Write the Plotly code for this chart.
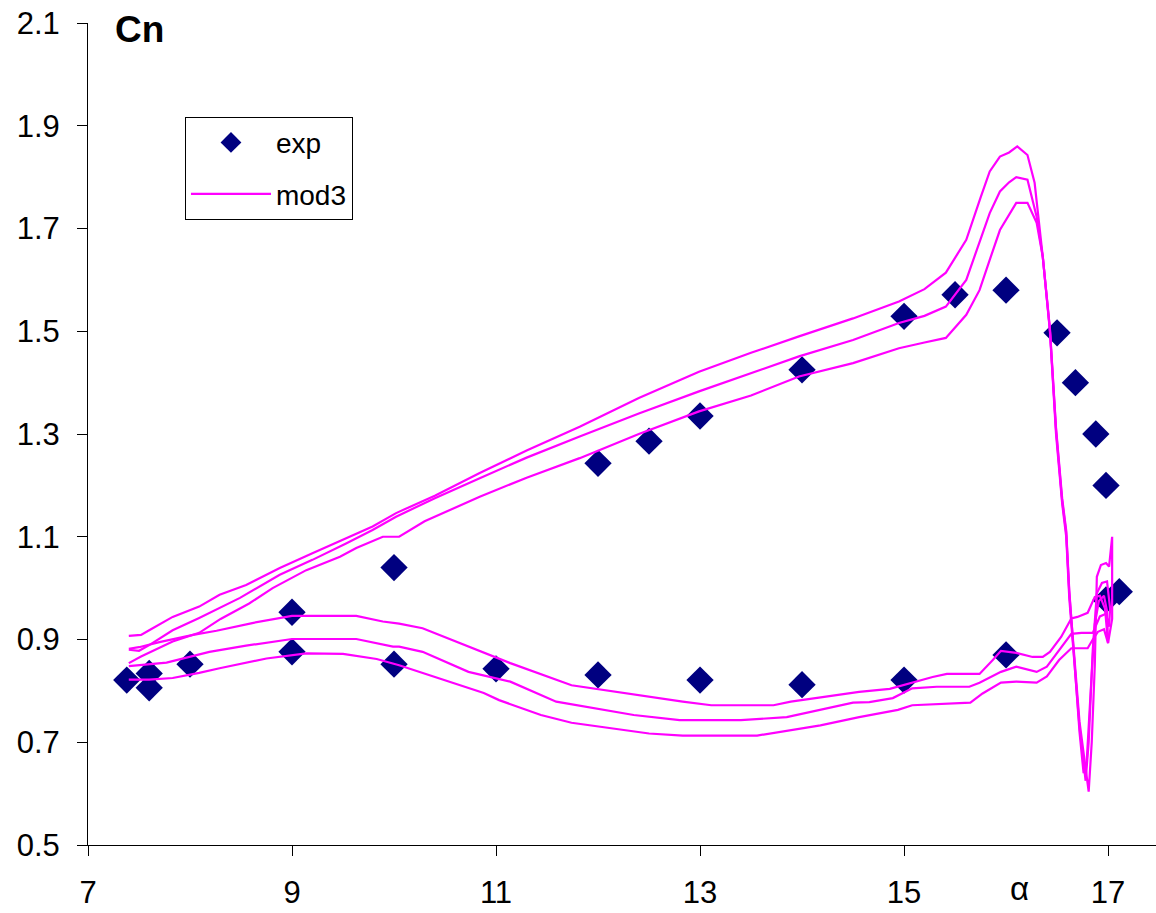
import plotly.graph_objects as go

# ---------------- experimental data ----------------
exp_alpha = [7.38, 7.60, 7.60, 8.00, 9.00, 9.00, 10.00, 10.00, 11.00, 12.00, 12.00,
             12.50, 13.00, 13.00, 14.00, 14.00, 15.00, 15.00, 15.50, 16.00, 16.00,
             16.50, 16.68, 16.88, 16.98, 16.98, 17.11]
exp_cn = [0.821, 0.834, 0.806, 0.852, 0.953, 0.876, 1.040, 0.852, 0.843, 1.243, 0.831,
          1.286, 1.335, 0.821, 1.425, 0.812, 1.529, 0.821, 1.571, 1.580, 0.870,
          1.497, 1.400, 1.300, 1.200, 0.977, 0.993]

# ---------------- model "mod3": three hysteresis loops ----------------
# loop 1 (highest)
alpha_up1 = [7.40, 7.52, 7.60, 7.83, 8.09, 8.29, 8.55, 8.88, 9.20, 9.53, 9.79, 10.02,
             10.40, 10.84, 11.30, 11.82, 12.40, 12.99, 13.50, 13.97, 14.50, 14.95,
             15.20, 15.41, 15.61, 15.75, 15.84, 15.94, 16.03, 16.11, 16.21, 16.28, 16.36]
cn_up1 = [0.907, 0.909, 0.918, 0.944, 0.964, 0.987, 1.006, 1.039, 1.068, 1.097, 1.120, 1.146,
          1.180, 1.224, 1.268, 1.314, 1.370, 1.421, 1.458, 1.490, 1.525, 1.558,
          1.582, 1.614, 1.678, 1.760, 1.811, 1.840, 1.848, 1.860, 1.843, 1.789, 1.645]
alpha_tip1 = [16.43, 16.49, 16.55, 16.59, 16.62, 16.72, 16.81, 16.84, 16.87, 16.89,
              16.93, 16.98, 17.01, 17.04, 17.04, 17.02, 17.00, 16.97, 16.92]
cn_tip1 = [1.503, 1.308, 1.170, 1.107, 0.990, 0.740, 0.604, 0.700, 0.850, 1.022,
           1.045, 1.049, 1.042, 1.100, 0.940, 0.915, 0.893, 0.960, 0.985]
alpha_low1 = [16.87, 16.80, 16.70, 16.64, 16.54, 16.43, 16.36, 16.26, 16.10, 15.95,
              15.87, 15.74, 15.42, 15.28, 14.86, 14.56, 14.20, 13.89, 13.72, 13.11,
              12.83, 12.30, 11.74, 11.14, 10.73, 10.58, 10.28, 10.05, 9.89, 9.63,
              9.00, 8.61, 8.26, 8.03, 7.70, 7.50, 7.40]
cn_low1 = [0.983, 0.952, 0.944, 0.941, 0.905, 0.876, 0.866, 0.866, 0.874, 0.878,
           0.860, 0.833, 0.833, 0.827, 0.804, 0.798, 0.788, 0.779, 0.772, 0.772,
           0.779, 0.795, 0.811, 0.854, 0.886, 0.899, 0.922, 0.931, 0.935, 0.946,
           0.946, 0.932, 0.917, 0.909, 0.895, 0.885, 0.882]

# loop 2 (middle)
alpha_up2 = [7.40, 7.50, 7.60, 7.83, 8.09, 8.49, 8.88, 9.20, 9.53, 9.79, 10.02,
             10.40, 10.84, 11.30, 11.82, 12.40, 12.99, 13.50, 13.97, 14.50, 14.95,
             15.20, 15.41, 15.61, 15.84, 15.94, 16.03, 16.10, 16.21, 16.30, 16.36]
cn_up2 = [0.880, 0.878, 0.889, 0.918, 0.942, 0.981, 1.026, 1.055, 1.087, 1.113, 1.139,
          1.175, 1.214, 1.254, 1.295, 1.340, 1.383, 1.418, 1.451, 1.483, 1.516,
          1.530, 1.548, 1.600, 1.730, 1.772, 1.790, 1.800, 1.795, 1.723, 1.645]
alpha_tip2 = [16.43, 16.49, 16.55, 16.59, 16.62, 16.72, 16.78, 16.81, 16.85, 16.89,
              16.94, 16.99, 17.02, 17.01, 16.98, 16.92]
cn_tip2 = [1.500, 1.300, 1.165, 1.100, 0.980, 0.730, 0.625, 0.700, 0.880, 0.990,
           1.010, 1.013, 0.960, 0.925, 0.950, 0.945]
alpha_low2 = [16.85, 16.74, 16.64, 16.52, 16.40, 16.30, 16.10, 15.95, 15.74, 15.64,
              15.32, 15.08, 14.89, 14.66, 14.50, 13.85, 13.40, 12.80, 12.35, 11.59,
              11.14, 10.73, 10.28, 10.05, 9.99, 9.63, 9.00, 8.55, 8.19, 7.77, 7.55, 7.40]
cn_low2 = [0.913, 0.913, 0.911, 0.880, 0.847, 0.837, 0.847, 0.837, 0.816, 0.808,
           0.808, 0.805, 0.786, 0.778, 0.777, 0.749, 0.743, 0.743, 0.753, 0.779,
           0.818, 0.837, 0.876, 0.886, 0.886, 0.901, 0.901, 0.888, 0.876, 0.855, 0.850, 0.848]

# loop 3 (lowest)
alpha_up3 = [7.40, 7.52, 7.83, 8.09, 8.30, 8.58, 8.81, 9.00, 9.14, 9.47, 9.63, 9.89,
             10.05, 10.30, 10.84, 11.30, 11.82, 12.40, 12.99, 13.50, 13.97, 14.50,
             14.95, 15.20, 15.41, 15.61, 15.74, 15.84, 15.94, 16.10, 16.21, 16.30, 16.36]
cn_up3 = [0.854, 0.867, 0.896, 0.913, 0.940, 0.970, 1.000, 1.020, 1.035, 1.061, 1.078, 1.100,
          1.100, 1.130, 1.178, 1.215, 1.253, 1.300, 1.344, 1.375, 1.412, 1.438,
          1.467, 1.478, 1.487, 1.532, 1.580, 1.639, 1.697, 1.750, 1.750, 1.711, 1.645]
alpha_tip3 = [16.43, 16.49, 16.55, 16.59, 16.62, 16.72, 16.76, 16.79, 16.83, 16.87,
              16.91, 16.96, 16.99, 17.00, 16.96, 16.90]
cn_tip3 = [1.505, 1.312, 1.175, 1.112, 0.995, 0.720, 0.640, 0.660, 0.800, 0.930,
           0.975, 0.985, 0.955, 0.893, 0.920, 0.915]
alpha_low3 = [16.85, 16.80, 16.64, 16.52, 16.40, 16.30, 16.10, 15.95, 15.77, 15.65,
              15.08, 14.94, 14.56, 14.18, 13.56, 12.83, 12.50, 12.08, 11.74, 11.44,
              11.03, 10.88, 10.43, 10.05, 9.83, 9.50, 9.14, 8.75, 8.29, 8.09, 7.83, 7.60, 7.40]
cn_low3 = [0.900, 0.883, 0.883, 0.860, 0.828, 0.816, 0.818, 0.816, 0.795, 0.777,
           0.772, 0.763, 0.749, 0.733, 0.713, 0.713, 0.717, 0.728, 0.738, 0.753,
           0.782, 0.796, 0.825, 0.850, 0.862, 0.872, 0.873, 0.863, 0.844, 0.835, 0.825, 0.822, 0.822]

y_ticks = [0.5, 0.7, 0.9, 1.1, 1.3, 1.5, 1.7, 1.9, 2.1]
x_ticks = [7, 9, 11, 13, 15, 17]

# ---------------- build the model trace ----------------
loops = [
    (alpha_up1, cn_up1, alpha_tip1, cn_tip1, alpha_low1, cn_low1),
    (alpha_up2, cn_up2, alpha_tip2, cn_tip2, alpha_low2, cn_low2),
    (alpha_up3, cn_up3, alpha_tip3, cn_tip3, alpha_low3, cn_low3),
]
mx, my = [], []
for au, cu, at, ct, al, cl in loops:
    mx += au + at + al + [None]
    my += cu + ct + cl + [None]

FONT = "Arial, Liberation Sans, sans-serif"

fig = go.Figure()
fig.add_trace(go.Scatter(
    x=exp_alpha, y=exp_cn, mode="markers", name="exp",
    marker=dict(symbol="diamond", size=21, color="#000080", line=dict(width=0)),
    legendgroup="a",
))
fig.add_trace(go.Scatter(
    x=mx, y=my, mode="lines", name="mod3",
    line=dict(color="#FF00FF", width=2.2), connectgaps=False,
    legendgroup="b",
))

fig.update_layout(
    width=1156, height=913,
    margin=dict(l=88, r=0, t=23, b=68),
    plot_bgcolor="white", paper_bgcolor="white",
    font=dict(family=FONT, color="black", size=30),
    legend=dict(
        x=0.0908, y=0.886, xanchor="left", yanchor="top",
        bordercolor="black", borderwidth=1, bgcolor="white",
        font=dict(family=FONT, size=28, color="black"),
        tracegroupgap=12, itemwidth=80, traceorder="grouped",
    ),
    xaxis=dict(
        range=[7, 17.47], tickvals=x_ticks, ticktext=[str(v) for v in x_ticks],
        showline=True, linecolor="black", linewidth=1,
        ticks="outside", ticklen=10, tickcolor="black", tickwidth=1,
        showgrid=False, zeroline=False,
        tickfont=dict(family=FONT, size=31, color="black"),
        ticklabelstandoff=10,
    ),
    yaxis=dict(
        range=[0.5, 2.1], tickvals=y_ticks, ticktext=[f"{v:.1f}" for v in y_ticks],
        showline=True, linecolor="black", linewidth=1,
        ticks="outside", ticklen=10, tickcolor="black", tickwidth=1,
        showgrid=False, zeroline=False,
        tickfont=dict(family=FONT, size=31, color="black"),
        ticklabelstandoff=11,
    ),
    annotations=[
        dict(text="<b>Cn</b>", xref="paper", yref="paper", x=0.0478, y=0.9927,
             xanchor="center", yanchor="middle", showarrow=False,
             font=dict(family=FONT, size=37, color="black")),
        dict(text="α", xref="x", yref="paper", x=16.13, y=-0.0535,
             xanchor="center", yanchor="middle", showarrow=False,
             font=dict(family=FONT, size=33, color="black")),
    ],
)

fig.write_html("out.html")
